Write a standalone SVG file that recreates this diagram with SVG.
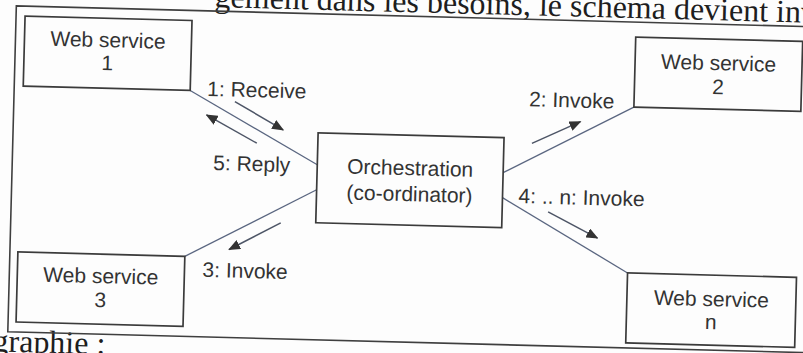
<svg xmlns="http://www.w3.org/2000/svg" width="803" height="353" viewBox="0 0 803 353">
<defs>
<style>
.frame{fill:none;stroke:#3f3f3f;stroke-width:1.6}
.box{fill:none;stroke:#3b3b3b;stroke-width:1.7}
.lbl{font-family:"Liberation Sans",Arial,sans-serif;font-size:21px;fill:#333}
.ctr{text-anchor:middle}
.conn{stroke:#5a6680;stroke-width:1.3;fill:none}
.arr{stroke:#4d5566;stroke-width:1.5;fill:none;marker-end:url(#ah)}
.book{font-family:"Liberation Serif","Times New Roman",serif;font-size:32px;fill:#1e1e1e}
</style>
<marker id="ah" viewBox="0 0 12 10" refX="11" refY="5" markerWidth="12" markerHeight="10" markerUnits="userSpaceOnUse" orient="auto"><path d="M0,0 L12,5 L0,10 Z" fill="#333"/></marker>
</defs>
<rect width="803" height="353" fill="#fdfdfd"/>
<g transform="rotate(1.5 401.5 176.5)">
  <text class="book" x="210" y="12">gement dans les besoins, le schéma devient inv</text>
  <text class="book" x="-3" y="362" font-size="30">graphie :</text>
  <path class="frame" d="M830,16 H12 V342 H830"/>
  <g id="connectors">
    <line class="conn" x1="188" y1="96" x2="317" y2="167"/>
    <line class="conn" x1="317" y1="192" x2="187" y2="262"/>
    <line class="conn" x1="503" y1="170" x2="632" y2="101"/>
    <line class="conn" x1="503" y1="195" x2="630" y2="267"/>
    <line class="arr" x1="233" y1="106" x2="282" y2="133"/>
    <line class="arr" x1="256" y1="147" x2="205" y2="120"/>
    <line class="arr" x1="531" y1="140" x2="579" y2="117"/>
    <line class="arr" x1="282" y1="226" x2="231" y2="254"/>
    <line class="arr" x1="549" y1="208" x2="599" y2="233"/>
    <text class="lbl" x="205" y="101">1: Receive</text>
    <text class="lbl" x="213" y="175">5: Reply</text>
    <text class="lbl" x="527" y="103">2: Invoke</text>
    <text class="lbl" x="519" y="200">4: .. n: Invoke</text>
    <text class="lbl" x="205" y="282">3: Invoke</text>
  </g>
  <g id="ws1">
    <rect class="box" x="21" y="26" width="167" height="70"/>
    <text class="lbl ctr" x="104.5" y="55">Web service</text>
    <text class="lbl ctr" x="104.5" y="78">1</text>
  </g>
  <g id="ws2">
    <rect class="box" x="632" y="31" width="167" height="70"/>
    <text class="lbl ctr" x="715.5" y="62">Web service</text>
    <text class="lbl ctr" x="715.5" y="86">2</text>
  </g>
  <g id="ws3">
    <rect class="box" x="20" y="262" width="167" height="70"/>
    <text class="lbl ctr" x="103.5" y="291">Web service</text>
    <text class="lbl ctr" x="103.5" y="315">3</text>
  </g>
  <g id="wsn">
    <rect class="box" x="630" y="267" width="169" height="70"/>
    <text class="lbl ctr" x="714.5" y="298">Web service</text>
    <text class="lbl ctr" x="714.5" y="321">n</text>
  </g>
  <g id="orchestration">
    <rect class="box" x="317" y="135" width="186" height="90"/>
    <text class="lbl ctr" x="410" y="175">Orchestration</text>
    <text class="lbl ctr" x="410" y="201">(co-ordinator)</text>
  </g>
</g>
</svg>
